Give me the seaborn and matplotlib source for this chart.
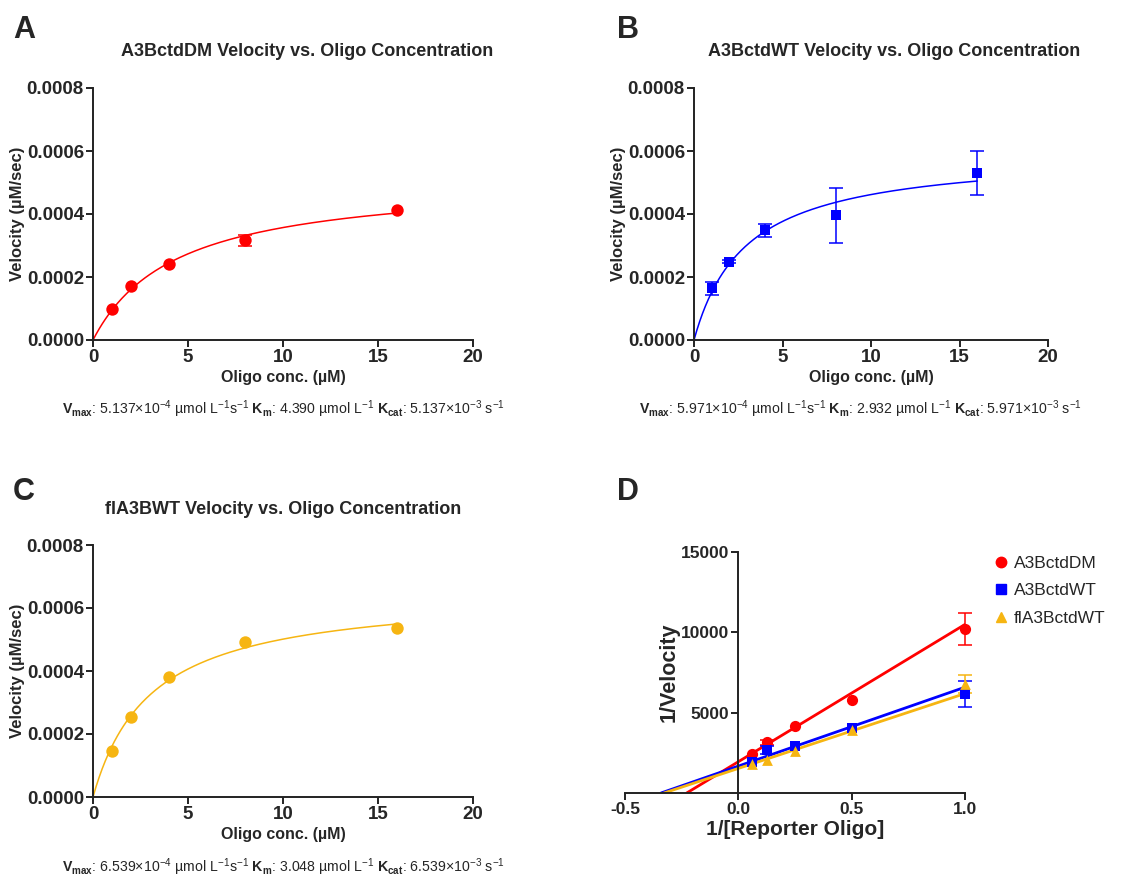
import numpy as np
import matplotlib
matplotlib.use("Agg")
import matplotlib.pyplot as plt
import seaborn as sns
from matplotlib.lines import Line2D

# Michaelis-Menten data (velocity in uM/sec)
conc = [1, 2, 4, 8, 16]
dm_vel = [0.000098, 0.000170, 0.000240, 0.000317, 0.000412]
dm_err = [0, 0, 0, 0.000017, 0]
wt_vel = [0.000164, 0.000248, 0.000348, 0.000396, 0.000530]
wt_err = [0.000020, 0.000005, 0.000020, 0.000088, 0.000070]
fl_vel = [0.000146, 0.000254, 0.000380, 0.000493, 0.000535]
fl_err = [0, 0, 0, 0, 0]

# fit parameters
dm_vmax, dm_km, dm_kcat = 5.137e-4, 4.390, 5.137e-3
wt_vmax, wt_km, wt_kcat = 5.971e-4, 2.932, 5.971e-3
fl_vmax, fl_km, fl_kcat = 6.539e-4, 3.048, 6.539e-3

# Lineweaver-Burk data
inv_conc = [1.0, 0.5, 0.25, 0.125, 0.0625]
dm_inv = [10228, 5818, 4161, 3168, 2443]
dm_inv_err = [1000, 0, 0, 150, 0]
wt_inv = [6149, 4037, 2900, 2650, 1905]
wt_inv_err = [800, 0, 0, 250, 0]
fl_inv = [6791, 3934, 2609, 2029, 1822]
fl_inv_err = [570, 0, 0, 0, 0]

RED = "#FF0000"
BLUE = "#0000FF"
ORANGE = "#F6B512"

sns.set_style("ticks")
plt.rcParams["font.family"] = ["Liberation Sans", "DejaVu Sans"]
plt.rcParams["mathtext.fontset"] = "custom"
plt.rcParams["mathtext.rm"] = "Liberation Sans"
plt.rcParams["mathtext.bf"] = "Liberation Sans:bold"
plt.rcParams["mathtext.it"] = "Liberation Sans:italic"
plt.rcParams["axes.linewidth"] = 1.4

W, H = 1138, 881
fig = plt.figure(figsize=(W / 100, H / 100), dpi=100)


def box(l, r, t, b):
    return [l / W, 1 - b / H, (r - l) / W, (b - t) / H]


def style_axis(ax, size=13.5):
    for s in ["top", "right"]:
        ax.spines[s].set_visible(False)
    for s in ["left", "bottom"]:
        ax.spines[s].set_color("#222222")
    ax.tick_params(direction="out", length=5, width=1.4, color="#222222",
                   labelsize=size, pad=1.5)
    for lab in ax.get_xticklabels() + ax.get_yticklabels():
        lab.set_fontweight("bold")


def draw_err(ax, x, y, err, color):
    # only points that carry a visible error bar
    pts = [(a, b, e) for a, b, e in zip(x, y, err) if e > 0]
    if not pts:
        return
    xe, ye, ee = zip(*pts)
    bars = ax.errorbar(xe, ye, yerr=ee, fmt="none", ecolor=color, elinewidth=1.1,
                       capsize=5, capthick=1.1)
    for art in bars.lines[1] + bars.lines[2]:
        art.set_clip_on(False)


def mm_panel(rect, x, y, err, vmax, km, color, marker, msize, title, tx, ty):
    ax = fig.add_axes(rect)
    xs = np.linspace(0, 16, 200)
    sns.lineplot(x=xs, y=vmax * xs / (km + xs), color=color, lw=1.1, ax=ax)
    draw_err(ax, x, y, err, color)
    sns.scatterplot(x=x, y=y, color=color, marker=marker, s=msize,
                    edgecolor=color, linewidth=0, ax=ax, zorder=3)
    ax.set_xlim(0, 20)
    ax.set_ylim(0, 0.0008)
    ax.set_xticks([0, 5, 10, 15, 20])
    ax.set_yticks([0, 0.0002, 0.0004, 0.0006, 0.0008])
    ax.set_yticklabels(["0.0000", "0.0002", "0.0004", "0.0006", "0.0008"])
    ax.set_xlabel("Oligo conc. (µM)", fontsize=11.5, fontweight="bold", labelpad=3)
    ax.set_ylabel("Velocity (µM/sec)", fontsize=12, fontweight="bold", labelpad=1)
    style_axis(ax)
    fig.text(tx / W, 1 - ty / H, title, ha="center", va="center",
             fontsize=13, fontweight="bold")
    return ax


def params_text(cx, cy, vmax, km, kcat):
    s = (r"$\mathbf{V_{max}}$: " + f"{vmax * 1e4:.3f}" + r"×10$^{-4}$ µmol L$^{-1}$s$^{-1}$ "
         + r"$\mathbf{K_m}$: " + f"{km:.3f}" + r" µmol L$^{-1}$ "
         + r"$\mathbf{K_{cat}}$: " + f"{kcat * 1e3:.3f}" + r"×10$^{-3}$ s$^{-1}$")
    fig.text(cx / W, 1 - cy / H, s, ha="center", va="center", fontsize=10.2)


mm_panel(box(93, 473, 88, 340), conc, dm_vel, dm_err, dm_vmax, dm_km, RED, "o", 80,
         "A3BctdDM Velocity vs. Oligo Concentration", 307, 52)
params_text(283, 409, dm_vmax, dm_km, dm_kcat)

mm_panel(box(694, 1048, 88, 340), conc, wt_vel, wt_err, wt_vmax, wt_km, BLUE, "s", 60,
         "A3BctdWT Velocity vs. Oligo Concentration", 894, 52)
params_text(860, 409, wt_vmax, wt_km, wt_kcat)

mm_panel(box(93, 473, 545, 797), conc, fl_vel, fl_err, fl_vmax, fl_km, ORANGE, "o", 80,
         "flA3BWT Velocity vs. Oligo Concentration", 283, 510)
params_text(283, 867, fl_vmax, fl_km, fl_kcat)

# Lineweaver-Burk panel
ax = fig.add_axes(box(625, 965, 552, 793))
series = [
    ("A3BctdDM", dm_inv, dm_inv_err, dm_vmax, dm_km, RED, "o", 65),
    ("A3BctdWT", wt_inv, wt_inv_err, wt_vmax, wt_km, BLUE, "s", 50),
    ("flA3BctdWT", fl_inv, fl_inv_err, fl_vmax, fl_km, ORANGE, "^", 60),
]
handles = []
for name, yv, ye, vmax, km, color, marker, ms in series:
    xs = np.linspace(-1 / km, 1.0, 50)
    sns.lineplot(x=xs, y=km / vmax * xs + 1 / vmax, color=color, lw=2.0, ax=ax)
    draw_err(ax, inv_conc, yv, ye, color)
    pts = sns.scatterplot(x=inv_conc, y=yv, color=color, marker=marker, s=ms,
                          linewidth=0, ax=ax, zorder=3)
    handles.append(Line2D([], [], ls="none", marker=marker, color=color,
                          markersize=7.5, label=name))
for coll in ax.collections:
    coll.set_clip_on(False)
ax.set_xlim(-0.5, 1.0)
ax.set_ylim(0, 15000)
ax.spines["left"].set_position(("data", 0))
ax.set_xticks([-0.5, 0.0, 0.5, 1.0])
ax.set_xticklabels(["-0.5", "0.0", "0.5", "1.0"])
ax.set_yticks([5000, 10000, 15000])
ax.set_xlabel("1/[Reporter Oligo]", fontsize=15, fontweight="bold", labelpad=2)
ax.set_ylabel("1/Velocity", fontsize=15.5, fontweight="bold")
ax.yaxis.set_label_coords((680 - 625) / 340, 0.5)
style_axis(ax, size=12.5)
ax.legend(handles=handles, loc="upper left", bbox_to_anchor=(975 / W, 1 - 540 / H),
          bbox_transform=fig.transFigure, frameon=False, fontsize=12.5,
          handletextpad=0.15, labelspacing=0.72, handlelength=1.2)

for letter, lx, ly in [("A", 24, 30), ("B", 628, 30), ("C", 24, 492), ("D", 628, 492)]:
    fig.text(lx / W, 1 - ly / H, letter, ha="center", va="center",
             fontsize=22, fontweight="bold")

fig.savefig("out.png", dpi=100)
